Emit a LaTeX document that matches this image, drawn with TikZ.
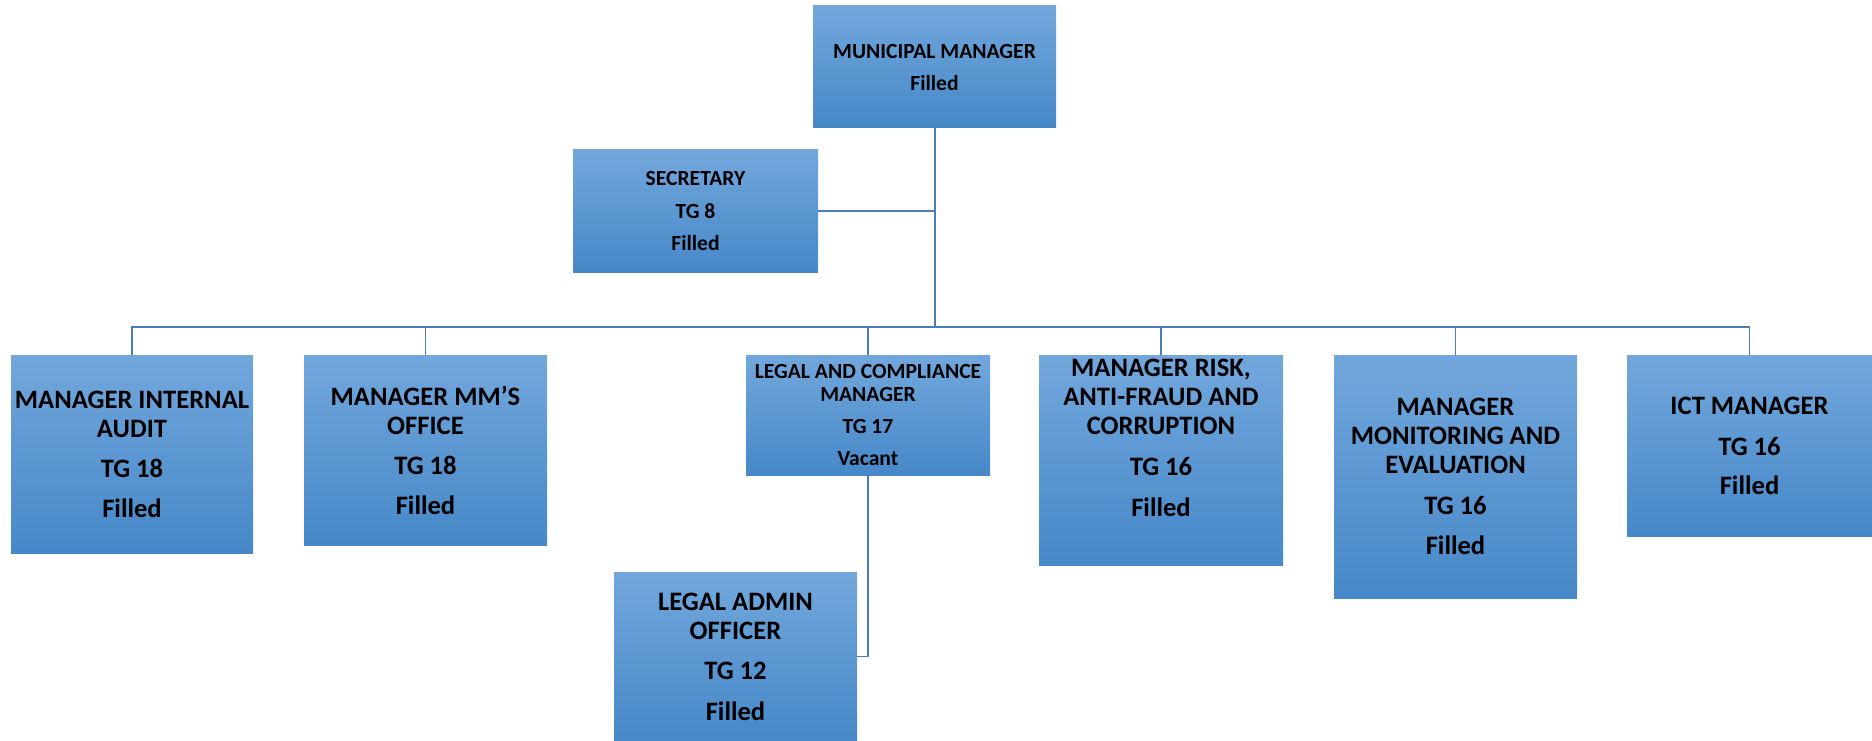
\documentclass[tikz,border=0pt]{standalone}
\usepackage{fontspec}
\setmainfont{Carlito}
\begin{document}
\begin{tikzpicture}[x=1pt,y=-1pt,
  every node/.style={inner sep=0pt, outer sep=0pt},
  post/.style={anchor=north west, rectangle, align=center, font=\bfseries,
    top color={rgb,255:red,114;green,167;blue,220},
    middle color={rgb,255:red,88;green,156;blue,220},
    bottom color={rgb,255:red,70;green,136;blue,200}},
  big/.style={post, font=\bfseries\fontsize{26.6}{29}\selectfont},
  small/.style={post, font=\bfseries\fontsize{21.6}{23}\selectfont},
  link/.style={draw={rgb,255:red,76;green,125;blue,186}, line width=1.4pt},
  trunk/.style={link, line width=2.4pt}]
\useasboundingbox (0,0) rectangle (1872,741);

% top of the chart
\node[small, minimum width=243, minimum height=122] (mm) at (813,6)
  {MUNICIPAL MANAGER\\[9pt]Filled};
\node[small, minimum width=245, minimum height=122] (sec) at (573,150)
  {SECRETARY\\[9.5pt]TG 8\\[9.5pt]Filled};

% direct reports
\node[big, minimum width=242, minimum height=198] (ia) at (11,355)
  {MANAGER INTERNAL\\AUDIT\\[11pt]TG 18\\[11pt]Filled};
\node[big, minimum width=243, minimum height=190] (mmo) at (304,355)
  {MANAGER MM’S\\OFFICE\\[11pt]TG 18\\[11pt]Filled};
\node[small, minimum width=244, minimum height=120] (legal) at (746,355)
  {LEGAL AND COMPLIANCE\\MANAGER\\[9pt]TG 17\\[9.5pt]Vacant};
\node[big, minimum width=244, minimum height=210, text depth=44pt] (risk) at (1039,355)
  {MANAGER RISK,\\ANTI-FRAUD AND\\CORRUPTION\\[12pt]TG 16\\[12pt]Filled};
\node[big, minimum width=243, minimum height=243] (me) at (1334,355)
  {MANAGER\\MONITORING AND\\EVALUATION\\[12pt]TG 16\\[11pt]Filled};
\node[big, minimum width=245, minimum height=181] (ict) at (1627,355)
  {ICT MANAGER\\[12pt]TG 16\\[10pt]Filled};

% under the legal manager
\node[big, minimum width=243, minimum height=169] (admin) at (614,572)
  {LEGAL ADMIN\\OFFICER\\[11pt]TG 12\\[12pt]Filled};

% connectors
\coordinate (bus) at (935,327);
\draw[trunk] (mm.south -| bus) -- (bus);
\draw[link] (sec.east) -- (sec.east -| bus);
\draw[link] (ia.north) |- (ict.north |- bus) -- (ict.north);
\foreach \n in {mmo,legal,risk,me}
  \draw[link] (\n.north) -- (\n.north |- bus);
\draw[link] (legal.south) |- (admin.east);
\end{tikzpicture}
\end{document}
